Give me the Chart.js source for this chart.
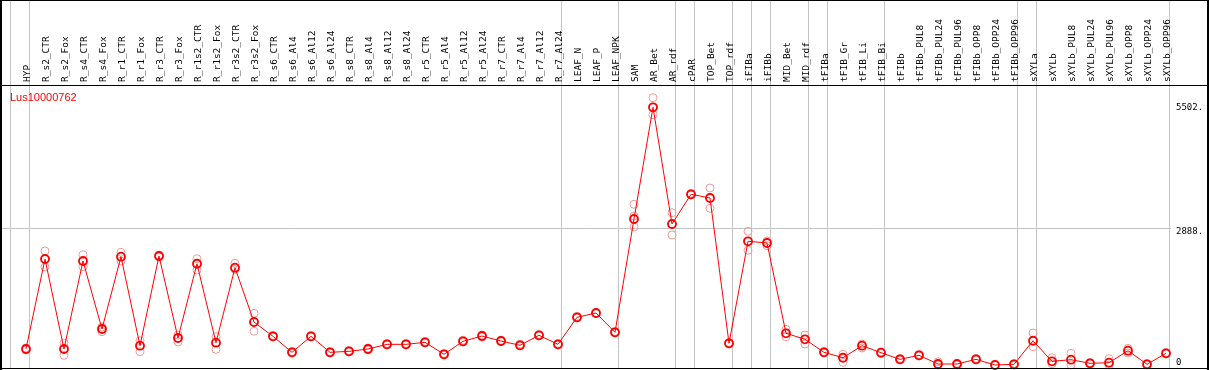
<!DOCTYPE html>
<html>
<head>
<meta charset="utf-8">
<script src="https://cdn.jsdelivr.net/npm/chart.js@4"></script>
<style>
  body { margin: 0; background: #fff; }
</style>
</head>
<body>
<canvas id="myChart" width="1209" height="370"></canvas>
<script>
// tissues / conditions, left to right
const categories = [
  'HYP', 'R_s2_CTR', 'R_s2_Fox', 'R_s4_CTR', 'R_s4_Fox', 'R_r1_CTR', 'R_r1_Fox',
  'R_r3_CTR', 'R_r3_Fox', 'R_r1s2_CTR', 'R_r1s2_Fox', 'R_r3s2_CTR', 'R_r3s2_Fox',
  'R_s6_CTR', 'R_s6_Al4', 'R_s6_Al12', 'R_s6_Al24', 'R_s8_CTR', 'R_s8_Al4', 'R_s8_Al12', 'R_s8_Al24',
  'R_r5_CTR', 'R_r5_Al4', 'R_r5_Al12', 'R_r5_Al24', 'R_r7_CTR', 'R_r7_Al4', 'R_r7_Al12', 'R_r7_Al24',
  'LEAF_N', 'LEAF_P', 'LEAF_NPK', 'SAM', 'AR_Bet', 'AR_rdf', 'cPAR', 'TOP_Bet', 'TOP_rdf',
  'iFIBa', 'iFIBb', 'MID_Bet', 'MID_rdf', 'tFIBa', 'tFIB_Gr', 'tFIB_Li', 'tFIB_Bi', 'tFIBb',
  'tFIBb_PUL8', 'tFIBb_PUL24', 'tFIBb_PUL96', 'tFIBb_OPP8', 'tFIBb_OPP24', 'tFIBb_OPP96',
  'sXYLa', 'sXYLb', 'sXYLb_PUL8', 'sXYLb_PUL24', 'sXYLb_PUL96', 'sXYLb_OPP8', 'sXYLb_OPP24', 'sXYLb_OPP96'
];

// mean expression
const means = [
  338, 2240, 338, 2198, 761, 2288, 408, 2303, 571, 2140, 471, 2056, 909,
  606, 268, 606, 268, 289, 338, 437, 437, 480, 226, 501, 613, 507, 416, 628, 437,
  1008, 1099, 691, 3085, 5445, 2979, 3607, 3529, 459, 2614, 2578, 670, 543,
  268, 154, 408, 260, 120, 205, 21, 21, 120, 0, 15,
  513, 78, 112, 36, 49, 302, 15, 247
];

// replicates
const repHigh = [
  359, 2409, 465, 2331, 803, 2381, 513, 2324, 634, 2246, 598, 2149, 1092,
  623, 285, 623, 285, 306, 359, 454, 454, 497, 243, 524, 634, 524, 440, 644, 454,
  1025, 1109, 708, 3396, 5648, 3218, 3624, 3740, 475, 2825, 2620, 754, 634,
  285, 226, 444, 275, 137, 222, 70, 32, 137, 10, 32,
  676, 154, 247, 53, 133, 353, 32, 264
];
const repLow = [
  317, 2071, 205, 2077, 704, 2198, 281, 2282, 486, 2007, 332, 2022, 712,
  592, 254, 592, 254, 275, 317, 423, 423, 465, 211, 486, 592, 497, 401, 613, 423,
  993, 1088, 676, 2916, 5289, 2747, 3592, 3311, 444, 2424, 2521, 598, 444,
  254, 57, 359, 243, 106, 190, 0, 0, 106, 0, 0,
  387, 27, 0, 21, 0, 254, 0, 232
];
const repMid = [
  338, 2240, 338, 2198, 761, 2288, 408, 2303, 571, 2140, 471, 2056, 909,
  606, 268, 606, 268, 289, 338, 437, 437, 480, 226, 501, 613, 507, 416, 628, 437,
  1008, 1099, 691, 3148, 5452, 2979, 3607, 3529, 459, 2614, 2578, 670, 543,
  268, 154, 408, 260, 120, 205, 21, 21, 120, 0, 15,
  513, 78, 112, 36, 49, 302, 15, 247
];

// separators drawn after these category indexes
const groupEnds = [-1, 0, 28, 31, 34, 35, 37, 38, 39, 41, 42, 45, 52, 53, 60];

const yTickValues = [0, 2888, 5502];
const yTickLabels = ['0', '2888.', '5502.'];
const geneName = 'Lus10000762';

const xMin = -1.263, xMax = 60.263;
const headerHeight = 85;
const gridGrey = '#c4c4c4';
const monoFont = '"DejaVu Sans Mono"';

const toPoints = arr => arr.map((v, i) => ({ x: i, y: v }));

// no auto padding from the scales
const noPad = s => { s.paddingTop = 0; s.paddingBottom = 0; s.paddingLeft = 0; s.paddingRight = 0; };

const framePlugin = {
  id: 'frame',
  afterDraw(chart) {
    const ctx = chart.ctx;
    const a = chart.chartArea;
    ctx.save();
    ctx.fillStyle = '#000';
    ctx.fillRect(0, 0, chart.width, 1);
    ctx.fillRect(0, a.top, chart.width, 1);
    ctx.fillRect(0, a.bottom, chart.width, 1);
    ctx.fillRect(0, 0, 2, chart.height);
    ctx.fillRect(chart.width - 2, 0, 2, chart.height);
    ctx.fillStyle = '#ff0000';
    ctx.font = '11px "Liberation Sans"';
    ctx.textBaseline = 'alphabetic';
    ctx.fillText(geneName, 10, a.top + 16);
    ctx.restore();
  }
};

const repStyle = {
  showLine: false,
  pointRadius: 4,
  pointBorderWidth: 1,
  pointBorderColor: '#eb9c9c',
  pointBackgroundColor: 'rgba(0,0,0,0)',
  order: 1,
  clip: false
};

const ctx = document.getElementById('myChart').getContext('2d');
const myChart = new Chart(ctx, {
  type: 'line',
  data: {
    datasets: [
      {
        data: toPoints(means),
        borderColor: '#ff0000',
        borderWidth: 1,
        tension: 0,
        pointRadius: 4,
        pointBorderWidth: 1.8,
        pointBorderColor: '#ff0000',
        pointBackgroundColor: 'rgba(0,0,0,0)',
        order: 0,
        clip: false
      },
      Object.assign({ data: toPoints(repHigh) }, repStyle),
      Object.assign({ data: toPoints(repLow) }, repStyle),
      Object.assign({ data: toPoints(repMid) }, repStyle)
    ]
  },
  options: {
    responsive: false,
    devicePixelRatio: 1,
    animation: false,
    layout: { autoPadding: false, padding: { left: 2, right: 0, top: 0, bottom: 2 } },
    plugins: { legend: { display: false }, tooltip: { enabled: false } },
    scales: {
      x: {
        type: 'linear',
        position: 'top',
        weight: 1,
        min: xMin,
        max: xMax,
        afterBuildTicks: s => { s.ticks = categories.map((c, i) => ({ value: i })); },
        afterFit: s => { s.height = headerHeight; noPad(s); },
        grid: { display: false, drawTicks: false },
        border: { display: false },
        ticks: {
          autoSkip: false,
          minRotation: 90,
          maxRotation: 90,
          padding: 3,
          labelOffset: 13,
          color: '#000',
          font: { family: monoFont, size: 9.5 },
          callback: v => categories[v]
        }
      },
      x2: {
        type: 'linear',
        position: 'top',
        weight: 0,
        min: xMin,
        max: xMax,
        afterBuildTicks: s => { s.ticks = groupEnds.map(g => ({ value: g + 0.2 })); },
        afterFit: s => { s.height = 0; noPad(s); },
        grid: { color: gridGrey, drawTicks: true, tickLength: headerHeight },
        border: { display: false },
        ticks: { display: false }
      },
      y: {
        type: 'linear',
        position: 'right',
        min: -63,
        max: 5916,
        afterBuildTicks: s => { s.ticks = yTickValues.map(v => ({ value: v })); },
        afterFit: s => { s.width = 38; noPad(s); },
        grid: {
          drawTicks: false,
          color: c => (c.index > 0 && c.index < yTickValues.length - 1) ? gridGrey : 'rgba(0,0,0,0)'
        },
        border: { display: false },
        ticks: {
          padding: 5,
          labelOffset: 3,
          color: '#000',
          font: { family: monoFont, size: 9 },
          callback: (v, i) => v === 0 ? [yTickLabels[i], ''] : yTickLabels[i]
        }
      }
    }
  },
  plugins: [framePlugin]
});
</script>
</body>
</html>
